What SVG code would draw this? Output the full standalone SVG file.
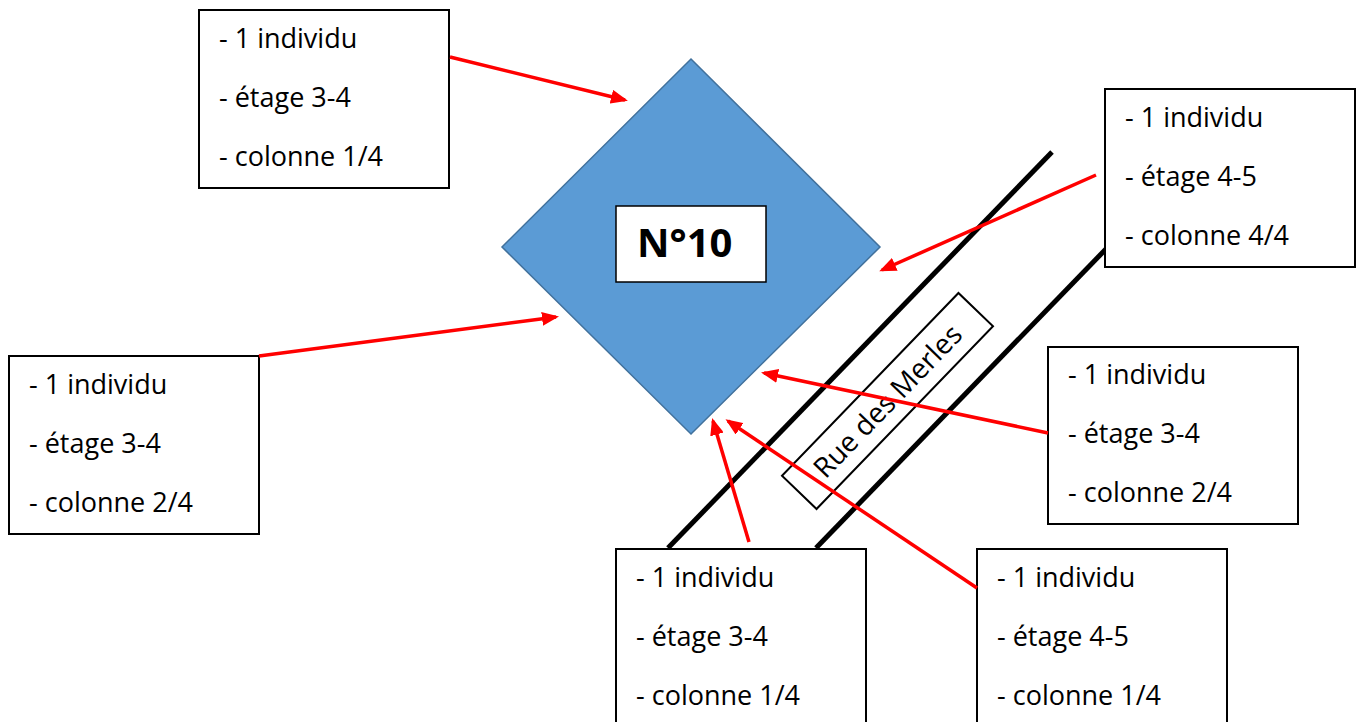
<svg xmlns="http://www.w3.org/2000/svg" width="1362" height="722" viewBox="0 0 1362 722">
<style>
.box{fill:#fff;stroke:#000;stroke-width:2}
.t{font-family:"Open Sans","Noto Sans",sans-serif;font-size:27px;fill:#000}
.road{stroke:#000;stroke-width:5;fill:none}
.arr{stroke:#f00;stroke-width:3.5;fill:none;marker-end:url(#ah)}
</style>
<defs>
<marker id="ah" markerUnits="userSpaceOnUse" markerWidth="18" markerHeight="14" refX="14" refY="7" orient="auto">
<path d="M0,0 L17,7 L0,14 z" fill="#f00"/>
</marker>
</defs>
<rect width="1362" height="722" fill="#fff"/>
<g id="street">
<line class="road" x1="668" y1="548" x2="1052" y2="152"/>
<line class="road" x1="816" y1="548" x2="1200" y2="152"/>
<g transform="translate(887.5,401) rotate(-46)">
<rect x="-127" y="-24" width="254" height="48" fill="#fff" stroke="#000" stroke-width="2"/>
<text x="0" y="10" text-anchor="middle" font-family="'Open Sans','Noto Sans',sans-serif" font-size="28">Rue des Merles</text>
</g>
</g>
<g id="building">
<polygon points="691,59 880,247 691,434 502,247" fill="#5B9BD5" stroke="#41719C" stroke-width="1.5"/>
<rect x="616" y="206" width="150" height="76" fill="#fff" stroke="#000" stroke-width="1.5"/>
<text x="637" y="257" font-family="'Open Sans','Noto Sans',sans-serif" font-size="40" font-weight="bold">N°10</text>
</g>
<g id="boxA">
<rect class="box" x="199" y="10" width="250" height="178"/>
<text class="t" x="219" y="48">- 1 individu</text>
<text class="t" x="219" y="107">- étage 3-4</text>
<text class="t" x="219" y="166">- colonne 1/4</text>
</g>
<g id="boxB">
<rect class="box" x="1105" y="89" width="250" height="178"/>
<text class="t" x="1125" y="127">- 1 individu</text>
<text class="t" x="1125" y="186">- étage 4-5</text>
<text class="t" x="1125" y="245">- colonne 4/4</text>
</g>
<g id="boxC">
<rect class="box" x="9" y="356" width="250" height="178"/>
<text class="t" x="29" y="394">- 1 individu</text>
<text class="t" x="29" y="453">- étage 3-4</text>
<text class="t" x="29" y="512">- colonne 2/4</text>
</g>
<g id="boxD">
<rect class="box" x="1048" y="347" width="250" height="177"/>
<text class="t" x="1068" y="384">- 1 individu</text>
<text class="t" x="1068" y="443">- étage 3-4</text>
<text class="t" x="1068" y="502">- colonne 2/4</text>
</g>
<g id="boxE">
<rect class="box" x="616" y="549" width="250" height="178"/>
<text class="t" x="636" y="587">- 1 individu</text>
<text class="t" x="636" y="646">- étage 3-4</text>
<text class="t" x="636" y="705">- colonne 1/4</text>
</g>
<g id="boxF">
<rect class="box" x="977" y="549" width="250" height="178"/>
<text class="t" x="997" y="587">- 1 individu</text>
<text class="t" x="997" y="646">- étage 4-5</text>
<text class="t" x="997" y="705">- colonne 1/4</text>
</g>
<g id="connectors">
<line class="arr" x1="450" y1="57" x2="625" y2="100"/>
<line class="arr" x1="259" y1="356" x2="556" y2="317"/>
<line class="arr" x1="1096" y1="175" x2="882" y2="270"/>
<line class="arr" x1="1048" y1="433" x2="764" y2="373"/>
<line class="arr" x1="749" y1="542" x2="713" y2="421"/>
<line class="arr" x1="977" y1="588" x2="728" y2="421"/>
</g>
</svg>
